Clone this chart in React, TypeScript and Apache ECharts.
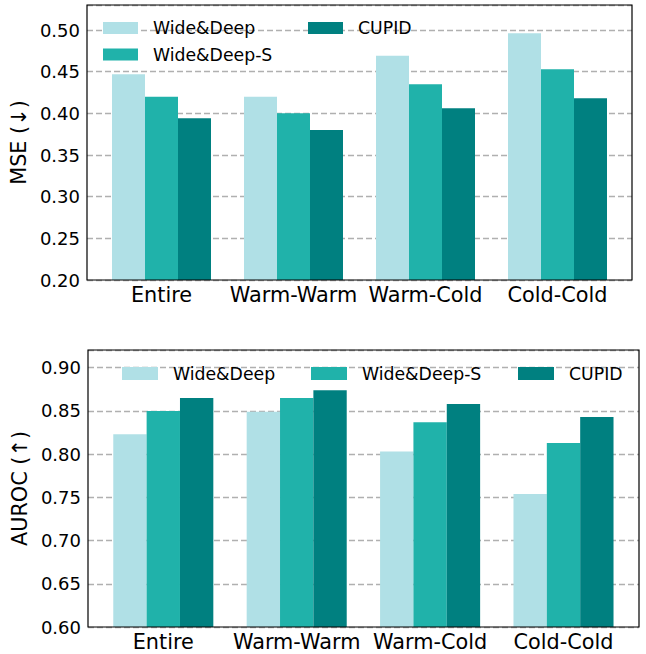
import React, { useEffect, useRef } from "react";
import * as echarts from "echarts";

const categories = ["Entire", "Warm-Warm", "Warm-Cold", "Cold-Cold"];
const seriesNames = ["Wide&Deep", "Wide&Deep-S", "CUPID"];

const mseWideDeep = [0.447, 0.42, 0.469, 0.496];
const mseWideDeepS = [0.42, 0.4, 0.435, 0.453];
const mseCupid = [0.394, 0.38, 0.406, 0.418];

const aucWideDeep = [0.823, 0.849, 0.803, 0.754];
const aucWideDeepS = [0.85, 0.865, 0.837, 0.813];
const aucCupid = [0.865, 0.874, 0.858, 0.843];

const mseRange = [0.2, 0.53];
const aucRange = [0.6, 0.9205];
const tickStep = 0.05;

const colors = ["#B0E0E6", "#20B2AA", "#008080"];
const FONT = "DejaVu Sans";

export default function App() {
  const ref = useRef<HTMLDivElement>(null);

  useEffect(() => {
    if (!ref.current) return;
    const chart = echarts.init(ref.current, undefined, { renderer: "svg" });

    const gridLine = {
      show: true,
      lineStyle: { color: "#b0b0b0", width: 1.4, type: [6, 3] as any },
    };

    const frameY = (range: number[], name: string, gridIndex: number) => ({
      type: "value",
      gridIndex,
      min: range[0],
      max: range[1],
      interval: tickStep,
      name,
      nameLocation: "middle",
      nameRotate: 90,
      nameGap: 57,
      nameTextStyle: { fontFamily: FONT, fontSize: 20.8, color: "#000" },
      axisLine: { show: false },
      axisTick: { show: false },
      axisLabel: {
        fontFamily: FONT,
        fontSize: 18,
        color: "#000",
        margin: 7,
        showMaxLabel: false,
        formatter: (v: number) => v.toFixed(2),
      },
      splitLine: gridLine,
    });

    const hiddenY = (range: number[], gridIndex: number) => ({
      type: "value",
      gridIndex,
      min: range[0],
      max: range[1],
      show: false,
      splitLine: { show: false },
    });

    const catX = (gridIndex: number) => ({
      type: "category",
      gridIndex,
      data: categories,
      axisLine: { show: false },
      axisTick: { show: false },
      axisLabel: {
        fontFamily: FONT,
        fontSize: 20.8,
        color: "#000",
        margin: 4,
        interval: 0,
      },
    });

    const hiddenX = (gridIndex: number) => ({
      type: "value",
      gridIndex,
      min: 0,
      max: 1,
      show: false,
    });

    const bars = (data: number[][], axisIndex: number, barWidth: number) =>
      data.map((d, i) => ({
        type: "bar",
        name: seriesNames[i],
        xAxisIndex: axisIndex,
        yAxisIndex: axisIndex,
        data: d,
        barWidth,
        barGap: "0%",
        itemStyle: { color: colors[i] },
        z: 2,
      }));

    const legendBase = (
      name: string,
      left: number,
      top: number,
      w: number,
      h: number
    ) => ({
      data: [name],
      left,
      top,
      padding: 0,
      itemWidth: w,
      itemHeight: h,
      icon: "rect",
      selectedMode: false,
      textStyle: {
        fontFamily: FONT,
        fontSize: 17.3,
        color: "#000",
        lineHeight: 20,
        padding: [0, 0, 0, 10],
      },
    });

    const option: any = {
      animation: false,
      backgroundColor: "#fff",
      grid: [
        {
          left: 87,
          right: 14,
          top: 5,
          height: 275,
          show: true,
          borderColor: "#000",
          borderWidth: 1.2,
          backgroundColor: "transparent",
          z: 10,
        },
        { left: 95.5, width: 528, top: 5, height: 275 },
        {
          left: 88,
          right: 7,
          top: 350,
          height: 277,
          show: true,
          borderColor: "#000",
          borderWidth: 1.2,
          backgroundColor: "transparent",
          z: 10,
        },
        { left: 96.6, width: 533.6, top: 350, height: 277 },
      ],
      xAxis: [hiddenX(0), catX(1), hiddenX(2), catX(3)],
      yAxis: [
        frameY(mseRange, "MSE (↓)", 0),
        hiddenY(mseRange, 1),
        frameY(aucRange, "AUROC (↑)", 2),
        hiddenY(aucRange, 3),
      ],
      legend: [
        legendBase("Wide&Deep", 103, 18, 35, 12),
        legendBase("Wide&Deep-S", 103, 44.5, 35, 12),
        legendBase("CUPID", 308, 18, 35, 12),
        legendBase("Wide&Deep", 122, 363.5, 36, 13),
        legendBase("Wide&Deep-S", 311, 363.5, 36, 13),
        legendBase("CUPID", 518, 363.5, 36, 13),
      ],
      series: [
        ...bars([mseWideDeep, mseWideDeepS, mseCupid], 1, 33),
        ...bars([aucWideDeep, aucWideDeepS, aucCupid], 3, 33.35),
      ],
    };

    chart.setOption(option);
    return () => chart.dispose();
  }, []);

  return (
    <div
      ref={ref}
      style={{ position: "absolute", left: 0, top: 0, width: 646, height: 654 }}
    />
  );
}
